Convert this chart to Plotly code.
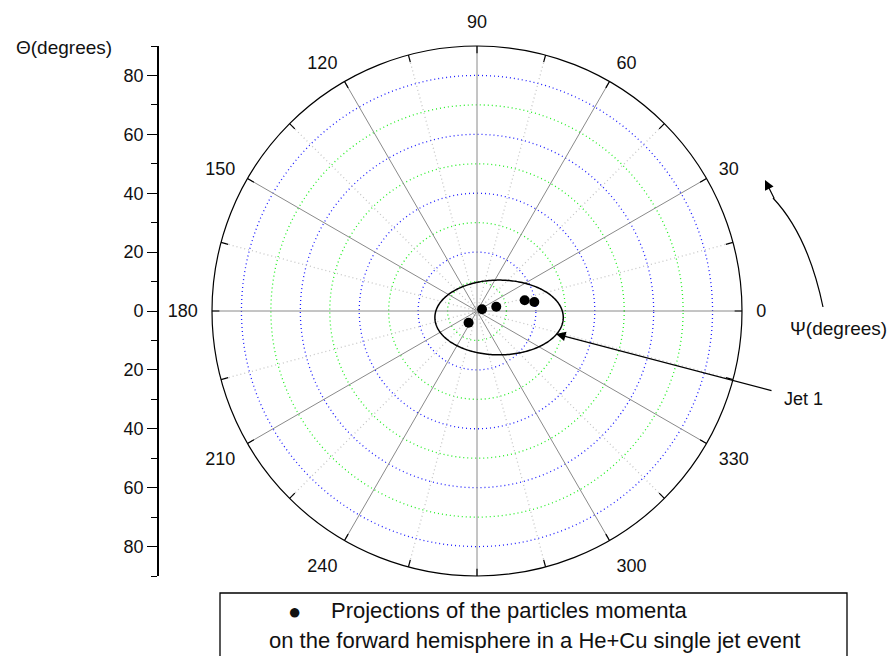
import numpy as np
import plotly.graph_objects as go

# ---- data ----
psi_deg = [18.8, 12.6, 12.7, 8.9, 234.3]      # azimuth Psi (degrees)
theta_deg = [1.8, 6.7, 16.6, 19.7, 4.9]        # polar angle Theta (degrees)

ang_tickvals = list(range(0, 360, 15))
ang_ticklabels = ["0", "30", "60", "90", "120", "150", "180", "210", "240", "", "300", "330"]
left_tickvals = [-80, -60, -40, -20, 0, 20, 40, 60, 80]
left_ticktext = ["80", "60", "40", "20", "0", "20", "40", "60", "80"]

blue_rings = [20, 40, 60, 80]
green_rings = [10, 30, 50, 70]
r_max = 90

# jet ellipse (cartesian, in degrees units)
jet_cx, jet_cy, jet_a, jet_b = 7.5, -2.2, 21.8, 12.7

FONT = "Liberation Sans, Arial, sans-serif"
W, H = 892, 656

fig = go.Figure()

ring_theta = np.arange(0, 361, 1)
for r in green_rings:
    fig.add_trace(go.Scatterpolar(r=[r] * len(ring_theta), theta=ring_theta, mode="lines",
                                  line=dict(color="#22ee22", width=1.3, dash="1px,3px"),
                                  hoverinfo="skip", showlegend=False))
for r in blue_rings:
    fig.add_trace(go.Scatterpolar(r=[r] * len(ring_theta), theta=ring_theta, mode="lines",
                                  line=dict(color="#2020ff", width=1.3, dash="1px,3px"),
                                  hoverinfo="skip", showlegend=False))

for a in ang_tickvals:
    if a % 30 == 0:
        ln = dict(color="#8a8a8a", width=1)
    else:
        ln = dict(color="#c4c4c4", width=1.3, dash="1px,3px")
    fig.add_trace(go.Scatterpolar(r=[0, r_max], theta=[a, a], mode="lines", line=ln,
                                  hoverinfo="skip", showlegend=False))

# inward tick marks on the outer circle
tick_r, tick_t = [], []
for a in ang_tickvals:
    tick_r += [r_max - 2.5, r_max, None]
    tick_t += [a, a, None]
fig.add_trace(go.Scatterpolar(r=tick_r, theta=tick_t, mode="lines",
                              line=dict(color="black", width=1.2),
                              hoverinfo="skip", showlegend=False))

# jet ellipse
t = np.linspace(0, 2 * np.pi, 241)
ex = jet_cx + jet_a * np.cos(t)
ey = jet_cy + jet_b * np.sin(t)
fig.add_trace(go.Scatterpolar(r=np.hypot(ex, ey), theta=np.degrees(np.arctan2(ey, ex)),
                              mode="lines", line=dict(color="black", width=1.5),
                              hoverinfo="skip", showlegend=False))

# particle momenta projections
fig.add_trace(go.Scatterpolar(r=theta_deg, theta=psi_deg, mode="markers",
                              marker=dict(color="black", size=10),
                              name="Projections of the particles momenta", showlegend=False))

# dummy trace for left Theta axis
fig.add_trace(go.Scatter(x=[0], y=[0], mode="markers", marker=dict(opacity=0),
                         hoverinfo="skip", showlegend=False, xaxis="x", yaxis="y"))

cx, cy, R = 477, 311, 265
fig.update_layout(
    width=W, height=H,
    margin=dict(l=0, r=0, t=0, b=0),
    paper_bgcolor="white", plot_bgcolor="white",
    font=dict(family=FONT, size=18, color="#111"),
    showlegend=False,
    polar=dict(
        domain=dict(x=[(cx - R) / W, (cx + R) / W], y=[1 - (cy + R) / H, 1 - (cy - R) / H]),
        bgcolor="rgba(0,0,0,0)",
        radialaxis=dict(range=[0, r_max], visible=False, showgrid=False),
        angularaxis=dict(direction="counterclockwise", rotation=0,
                         tickmode="array", tickvals=ang_tickvals,
                         ticktext=[ang_ticklabels[i // 2] if i % 2 == 0 else "" for i in range(len(ang_tickvals))],
                         ticks="outside", ticklen=10, tickcolor="rgba(0,0,0,0)",
                         showline=True, linecolor="black", linewidth=1.2,
                         showgrid=False, tickfont=dict(size=18, family=FONT, color="#111")),
    ),
    xaxis=dict(domain=[159 / W, 160 / W], visible=False, range=[-1, 1]),
    yaxis=dict(domain=[1 - (cy + R) / H, 1 - (cy - R) / H], range=[-r_max, r_max],
               tickmode="array", tickvals=left_tickvals, ticktext=left_ticktext,
               ticks="outside", ticklen=10, tickwidth=1.3, tickcolor="black",
               showline=True, linecolor="black", linewidth=1.6, showgrid=False,
               zeroline=False, anchor="x", side="left",
               minor=dict(dtick=10, tick0=-90, ticks="outside", ticklen=6, tickcolor="black"),
               tickfont=dict(size=18, family=FONT, color="#111")),
)

def txt(x, y, s, size, xanchor="center"):
    return dict(x=x / W, y=1 - y / H, xref="paper", yref="paper", text=s,
                xanchor=xanchor, yanchor="middle", showarrow=False,
                font=dict(size=size, family=FONT, color="#111"))

ann = [
    txt(64, 47, "Θ(degrees)", 19),
    txt(838, 329, "Ψ(degrees)", 19),
    txt(782, 399, "Jet 1", 18, xanchor="left"),
    txt(294, 611, "●", 22),
    txt(509, 610, "Projections of the particles momenta", 22),
    txt(534, 640, "on the forward hemisphere in a He+Cu single jet event", 22),
]
# Jet arrow
ann.append(dict(x=556 / W, y=1 - 334 / H, xref="paper", yref="paper", text="",
                showarrow=True, ax=773 - 556, ay=391 - 334, axref="pixel", ayref="pixel",
                arrowhead=2, arrowsize=1.6, arrowwidth=1.2, arrowcolor="black"))
# Psi arrow head
ann.append(dict(x=765 / W, y=1 - 180 / H, xref="paper", yref="paper", text="",
                showarrow=True, ax=10, ay=20, arrowhead=2, arrowsize=1.6, arrowwidth=1.2,
                arrowcolor="black"))
fig.update_layout(annotations=ann)

fig.update_layout(shapes=[
    dict(type="path", xref="paper", yref="paper",
         path=f"M {823/W},{1-307/H} Q {808/W},{1-235/H} {773/W},{1-198/H}",
         line=dict(color="black", width=1.2)),
    dict(type="rect", xref="paper", yref="paper", x0=220 / W, x1=847 / W,
         y0=1 - 593 / H, y1=-0.05, line=dict(color="black", width=1.3)),
])

fig.write_html("out.html")
